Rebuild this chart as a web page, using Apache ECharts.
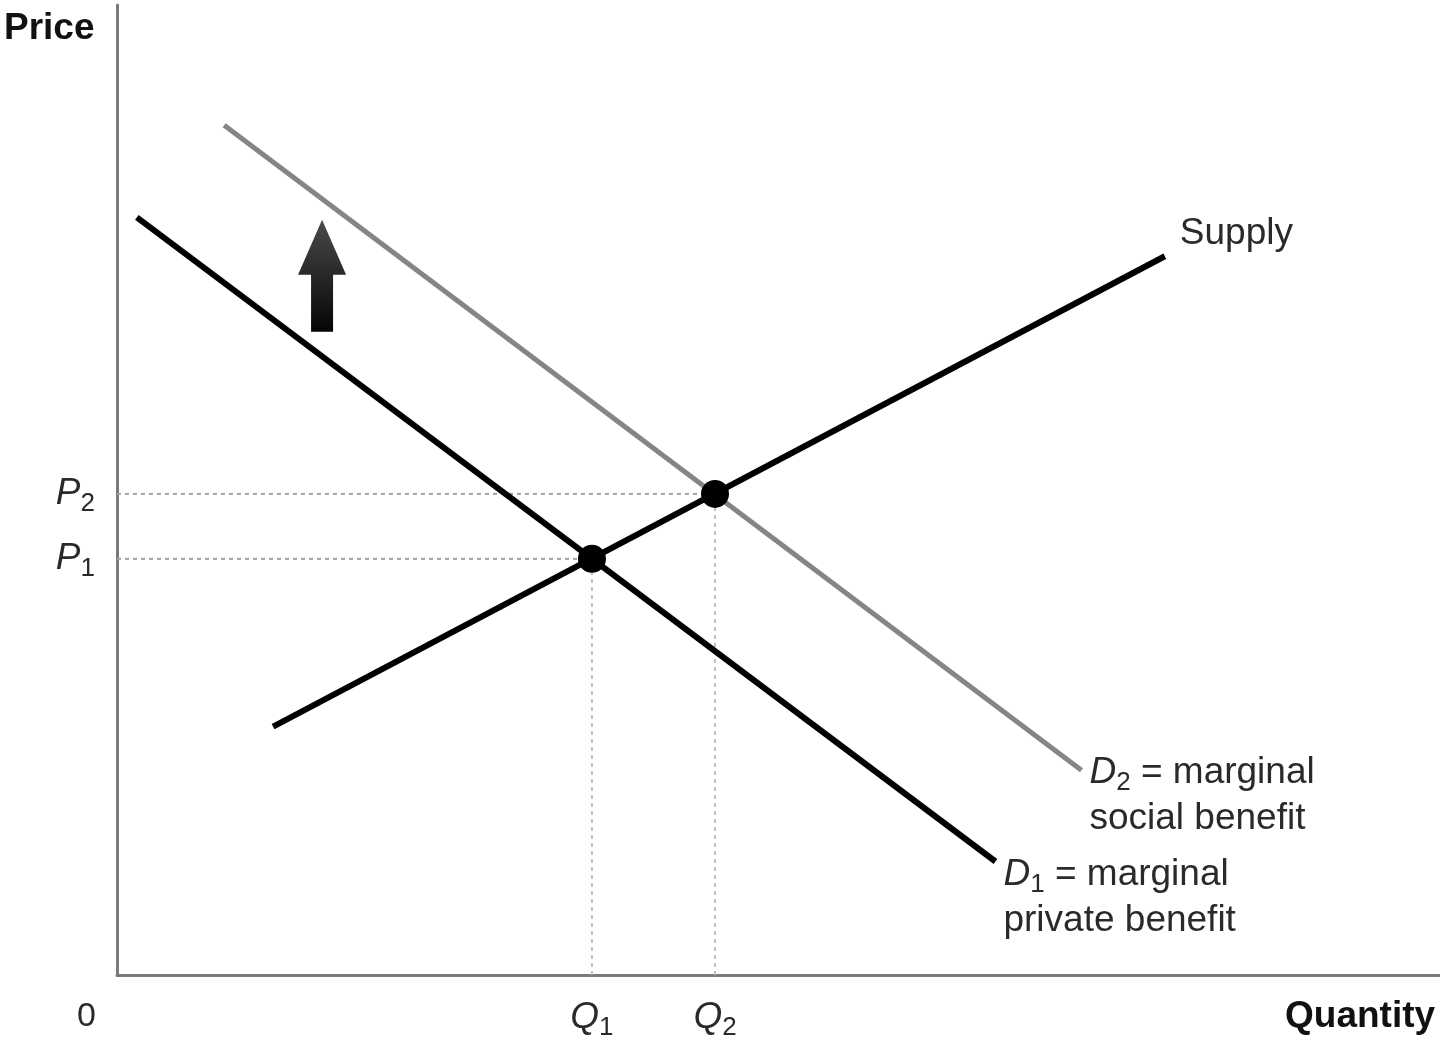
<!DOCTYPE html>
<html>
<head>
<meta charset="utf-8">
<script src="https://cdn.jsdelivr.net/npm/echarts@6.0.0/dist/echarts.min.js"></script>
<style>
  html, body { margin: 0; padding: 0; background: #fff; }
  #chart { width: 1440px; height: 1047px; }
</style>
</head>
<body>
<div id="chart"></div>
<script>
// curves (axis units 0..100)
const demand1 = [[1.5, 78.1], [66.4, 11.7]];
const demand2 = [[8.1, 87.6], [72.9, 21.1]];
const supply = [[11.8, 25.6], [79.2, 74.1]];
const quantities = [35.9, 45.2];
const prices = [42.9, 49.6];
const priceNames = ["P1", "P2"];
const quantityNames = ["Q1", "Q2"];
const shiftArrow = [[15.5, 72.1]];

const font = "'Liberation Sans', Arial, sans-serif";
const textColor = "#2a2a2a";

const rich = {
  i: { fontFamily: font, fontSize: 37, fontStyle: "italic", color: textColor, lineHeight: 46 },
  s: { fontFamily: font, fontSize: 26, color: textColor, lineHeight: 26, verticalAlign: "bottom" },
  n: { fontFamily: font, fontSize: 37, color: textColor, lineHeight: 46 },
};

function subLabel(name) {
  return `{i|${name[0]}}{s|${name.slice(1)}}`;
}

const equilibria = quantities.map((q, i) => [q, prices[i]]);

const guideSeries = [];
equilibria.forEach(([q, p]) => {
  guideSeries.push({
    type: "line",
    data: [[0, p], [q, p]],
    symbol: "none",
    silent: true,
    lineStyle: { color: "#a0a0a0", width: 2, type: [4, 4] },
    z: 1,
  });
  guideSeries.push({
    type: "line",
    data: [[q, 0], [q, p]],
    symbol: "none",
    silent: true,
    lineStyle: { color: "#c0c0c0", width: 2, type: [4, 4] },
    z: 1,
  });
});

const chart = echarts.init(document.getElementById("chart"));

chart.setOption({
  animation: false,
  backgroundColor: "#fff",
  grid: { left: 117, right: 0, top: 5, bottom: 72 },
  xAxis: {
    type: "value",
    min: 0,
    max: 100,
    axisLine: { show: true, lineStyle: { color: "#7a7a7a", width: 3 } },
    axisTick: { show: false },
    splitLine: { show: false },
    axisLabel: {
      customValues: quantities,
      margin: 20,
      formatter: (v) => subLabel(quantityNames[quantities.indexOf(v)]),
      rich,
    },
  },
  yAxis: {
    type: "value",
    min: 0,
    max: 100,
    axisLine: { show: true, lineStyle: { color: "#7a7a7a", width: 3 } },
    axisTick: { show: false },
    splitLine: { show: false },
    axisLabel: {
      customValues: prices,
      margin: 22,
      formatter: (v) => subLabel(priceNames[prices.indexOf(v)]),
      rich,
    },
  },
  graphic: [
    {
      type: "text",
      left: 4,
      top: 10,
      style: { text: "Price", font: `bold 37px ${font}`, fill: "#111" },
    },
    {
      type: "text",
      left: 1285,
      top: 998,
      style: { text: "Quantity", font: `bold 37px ${font}`, fill: "#111" },
    },
    {
      type: "text",
      left: 77,
      top: 1000,
      style: { text: "0", font: `34px ${font}`, fill: textColor },
    },
  ],
  series: [
    ...guideSeries,
    {
      type: "line",
      data: demand2,
      symbol: "none",
      lineStyle: { color: "#858585", width: 5 },
      z: 2,
      endLabel: {
        show: true,
        distance: 8,
        offset: [0, 25],
        align: "left",
        formatter: () => "{i|D}{s|2}{n| = marginal}\n{n|social benefit}",
        rich,
      },
    },
    {
      type: "line",
      data: demand1,
      symbol: "none",
      lineStyle: { color: "#000", width: 6 },
      z: 3,
      endLabel: {
        show: true,
        distance: 8,
        offset: [0, 36],
        align: "left",
        formatter: () => "{i|D}{s|1}{n| = marginal}\n{n|private benefit}",
        rich,
      },
    },
    {
      type: "line",
      data: supply,
      symbol: "none",
      lineStyle: { color: "#000", width: 6 },
      z: 3,
      endLabel: {
        show: true,
        distance: 15,
        offset: [0, -22],
        formatter: () => "{n|Supply}",
        rich,
      },
    },
    {
      type: "scatter",
      data: equilibria,
      symbol: "circle",
      symbolSize: 28,
      itemStyle: { color: "#000", opacity: 1 },
      z: 4,
    },
    {
      type: "scatter",
      data: shiftArrow,
      symbol: "path://M24 0 L48 55 L35 55 L35 112 L13 112 L13 55 L0 55 Z",
      symbolSize: [48, 112],
      itemStyle: {
        opacity: 1,
        color: {
          type: "linear",
          x: 0, y: 0, x2: 0, y2: 1,
          colorStops: [
            { offset: 0, color: "#4a4a4a" },
            { offset: 1, color: "#050505" },
          ],
        },
      },
      z: 4,
    },
  ],
});
</script>
</body>
</html>
